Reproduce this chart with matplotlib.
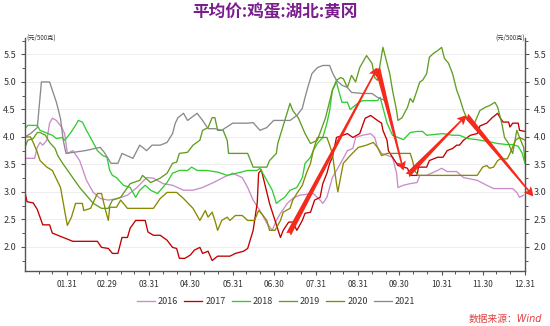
import matplotlib
matplotlib.use('Agg')
import matplotlib.pyplot as plt

plt.rcParams['font.family'] = ['Noto Sans CJK SC', 'DejaVu Sans']

# day of year (Dec 31 = 366) and price
d2016 = [0, 7, 9, 11, 13, 16, 18, 20, 23, 27, 29, 31, 35, 40, 45, 50, 55, 61, 68, 75, 82, 89, 94, 101, 108, 116, 123, 130, 138, 145, 152, 159, 163, 167, 172, 177, 181, 184, 187, 192, 196, 201, 211, 216, 218, 221, 225, 231, 236, 240, 242, 247, 253, 256, 258, 261, 269, 272, 273, 277, 282, 287, 289, 294, 302, 305, 309, 316, 321, 331, 338, 343, 350, 357, 360, 362, 365]
v2016 = [3.61, 3.61, 3.81, 3.9, 3.85, 3.94, 4.25, 4.34, 4.3, 4.17, 4.06, 3.7, 3.75, 3.57, 3.21, 2.99, 2.88, 2.85, 2.88, 2.94, 3.08, 3.26, 3.25, 3.15, 3.12, 3.03, 3.03, 3.08, 3.17, 3.26, 3.34, 3.26, 3.08, 2.85, 2.66, 2.43, 2.3, 2.48, 2.61, 2.79, 2.88, 2.94, 2.97, 2.85, 2.79, 2.9, 3.26, 3.52, 3.75, 3.79, 3.99, 4.03, 4.06, 3.99, 3.81, 3.7, 3.63, 3.34, 3.08, 3.12, 3.15, 3.17, 3.3, 3.3, 3.39, 3.43, 3.37, 3.37, 3.26, 3.21, 3.12, 3.06, 3.06, 3.06, 2.99, 2.9, 2.94]

d2017 = [0, 1.5, 6, 9, 13, 18, 20, 28, 35, 53, 56, 61, 64, 68, 71, 75, 77, 81, 88, 90, 94, 99, 104, 108, 111, 113, 117, 121, 124, 128, 130, 134, 137, 141, 150, 154, 160, 163, 167, 170, 171, 173, 179, 183, 187, 189, 193, 196, 199, 203, 205, 209, 212, 216, 218, 221, 223, 225, 228, 236, 240, 245, 249, 253, 258, 261, 262, 265, 266, 269, 273, 280, 282, 287, 288, 294, 296, 302, 306, 309, 313, 316, 318, 321, 326, 331, 333, 338, 342, 346, 348, 350, 354, 355, 357, 361, 362, 366]
v2017 = [2.99, 2.82, 2.8, 2.68, 2.4, 2.4, 2.25, 2.17, 2.1, 2.1, 1.99, 1.97, 1.88, 1.88, 2.17, 2.17, 2.34, 2.48, 2.48, 2.27, 2.21, 2.21, 2.12, 1.99, 1.97, 1.79, 1.79, 1.85, 1.94, 1.99, 1.88, 1.92, 1.75, 1.83, 1.83, 1.88, 1.92, 1.97, 2.3, 2.8, 3.34, 3.4, 2.79, 2.48, 2.17, 2.3, 2.45, 2.45, 2.3, 2.48, 2.61, 2.63, 2.85, 2.9, 3.15, 3.34, 3.52, 3.63, 3.99, 4.06, 3.99, 4.06, 4.34, 4.39, 4.3, 4.25, 4.12, 3.94, 3.75, 3.63, 3.48, 3.43, 3.3, 3.3, 3.45, 3.45, 3.57, 3.63, 3.63, 3.75, 3.79, 3.85, 3.85, 3.94, 4.03, 4.06, 4.2, 4.25, 4.35, 4.43, 4.34, 4.27, 4.27, 4.18, 4.25, 4.25, 4.12, 4.1]

d2018 = [0, 2, 9, 11, 15, 20, 23, 27, 29, 33, 37, 39, 42, 45, 49, 53, 57, 60, 62, 64, 67, 72, 77, 81, 84, 88, 92, 97, 104, 108, 113, 119, 122, 126, 133, 141, 148, 155, 163, 170, 172, 177, 181, 184, 187, 190, 194, 199, 203, 205, 209, 211, 214, 218, 221, 223, 225, 228, 229, 232, 236, 238, 243, 247, 258, 260, 265, 269, 277, 282, 287, 291, 294, 306, 313, 318, 324, 331, 338, 346, 353, 357, 361, 364, 366]
v2018 = [4.15, 4.21, 4.21, 4.12, 4.08, 4.03, 3.97, 3.99, 3.94, 4.06, 4.21, 4.3, 4.27, 4.12, 3.94, 3.75, 3.66, 3.63, 3.39, 3.3, 3.26, 3.12, 3.08, 2.9, 3.03, 3.12, 3.03, 2.97, 3.17, 3.34, 3.39, 3.39, 3.45, 3.39, 3.39, 3.36, 3.3, 3.34, 3.39, 3.39, 3.43, 3.21, 3.03, 2.79, 2.85, 2.9, 3.03, 3.08, 3.26, 3.52, 3.63, 3.75, 3.88, 3.99, 4.25, 4.48, 4.85, 5.0, 4.9, 4.63, 4.63, 4.5, 4.6, 4.66, 4.66, 4.72, 4.25, 4.03, 3.95, 4.08, 4.1, 4.1, 4.03, 4.06, 4.03, 4.03, 3.97, 3.95, 3.92, 3.88, 3.86, 3.86, 3.83, 3.7, 3.52]

d2019 = [0, 2, 6, 9, 11, 15, 18, 22, 24, 27, 40, 50, 56, 61, 64, 70, 77, 84, 86, 92, 99, 104, 108, 111, 113, 119, 123, 128, 130, 134, 137, 139, 141, 145, 148, 149, 152, 163, 167, 177, 179, 184, 185, 194, 196, 200, 205, 209, 214, 220, 225, 228, 231, 233, 236, 239, 242, 245, 250, 254, 256, 258, 262, 267, 269, 272, 273, 276, 280, 282, 284, 287, 289, 291, 294, 296, 299, 302, 305, 307, 310, 313, 316, 318, 321, 324, 329, 333, 337, 340, 344, 346, 349, 351, 354, 356, 357, 360, 362, 365, 366]
v2019 = [3.81, 3.94, 3.97, 4.08, 4.08, 4.03, 3.9, 3.79, 3.66, 3.54, 3.08, 2.79, 2.7, 2.7, 2.85, 2.9, 3.15, 3.21, 3.3, 3.17, 3.25, 3.34, 3.52, 3.54, 3.7, 3.72, 3.85, 3.94, 4.12, 4.17, 4.35, 4.35, 4.12, 4.12, 3.94, 3.7, 3.7, 3.7, 3.45, 3.45, 3.57, 3.7, 3.88, 4.61, 4.48, 4.35, 4.06, 3.88, 3.94, 4.35, 4.85, 5.03, 5.08, 5.06, 4.9, 5.12, 5.0, 5.26, 5.48, 5.34, 5.08, 5.03, 5.63, 5.15, 4.85, 4.48, 4.3, 4.35, 4.54, 4.7, 4.63, 4.85, 5.0, 5.03, 5.15, 5.45, 5.52, 5.57, 5.63, 5.43, 5.34, 5.15, 4.85, 4.72, 4.48, 4.3, 4.25, 4.48, 4.54, 4.57, 4.63, 4.54, 4.25, 3.99, 3.88, 3.75, 3.7, 4.12, 3.99, 3.81, 3.57]

d2020 = [0, 4, 6, 9, 11, 16, 20, 26, 29, 31, 34, 37, 42, 43, 48, 53, 56, 59, 61, 62, 67, 70, 75, 94, 99, 104, 111, 116, 123, 128, 132, 134, 137, 139, 141, 144, 148, 150, 154, 159, 163, 168, 171, 173, 177, 179, 183, 187, 189, 194, 196, 199, 203, 206, 209, 211, 214, 221, 223, 225, 228, 229, 233, 238, 244, 250, 255, 258, 261, 265, 282, 284, 285, 288, 313, 324, 331, 335, 338, 340, 343, 346, 348, 353, 355, 359, 362, 366]
v2020 = [4.0, 4.0, 3.9, 3.72, 3.57, 3.45, 3.39, 3.08, 2.66, 2.39, 2.54, 2.79, 2.79, 2.66, 2.7, 2.97, 2.97, 2.66, 2.48, 2.72, 2.72, 2.85, 2.7, 2.7, 2.88, 2.99, 2.99, 2.88, 2.7, 2.48, 2.66, 2.54, 2.63, 2.48, 2.3, 2.48, 2.54, 2.48, 2.57, 2.57, 2.48, 2.48, 2.66, 2.61, 2.48, 2.3, 2.3, 2.48, 2.63, 2.7, 2.85, 2.97, 3.12, 3.34, 3.52, 3.75, 3.99, 3.99, 3.85, 3.7, 3.15, 3.0, 3.52, 3.66, 3.81, 3.85, 3.9, 3.81, 3.66, 3.7, 3.7, 3.54, 3.39, 3.3, 3.3, 3.3, 3.3, 3.45, 3.48, 3.43, 3.45, 3.57, 3.6, 3.6, 3.7, 3.94, 3.99, 3.94]

d2021 = [0, 4, 9, 11, 12, 16, 18, 20, 23, 26, 28, 30, 44, 55, 58, 63, 68, 71, 79, 84, 89, 93, 99, 104, 108, 110, 112, 116, 119, 126, 130, 134, 139, 144, 152, 163, 167, 172, 177, 182, 189, 194, 199, 203, 205, 207, 210, 214, 218, 223, 225, 228, 232, 236, 239, 247, 254, 258, 264]
v2021 = [4.0, 4.06, 4.17, 4.72, 5.0, 5.0, 5.0, 4.85, 4.63, 4.33, 3.94, 3.7, 3.75, 3.81, 3.72, 3.52, 3.52, 3.7, 3.61, 3.85, 3.75, 3.85, 3.85, 3.9, 4.06, 4.25, 4.35, 4.43, 4.3, 4.43, 4.3, 4.15, 4.15, 4.12, 4.25, 4.25, 4.26, 4.12, 4.17, 4.3, 4.3, 4.3, 4.39, 4.52, 4.72, 4.9, 5.15, 5.26, 5.3, 5.3, 5.17, 5.03, 4.94, 4.9, 4.81, 4.79, 4.79, 4.72, 4.66]

years = ['2016', '2017', '2018', '2019', '2020', '2021']
colors = ['#c98ccb', '#c00000', '#33cc33', '#5f9e23', '#878a00', '#8a8a8a']

tick_days = [31, 60, 91, 121, 152, 182, 213, 244, 274, 305, 335, 366]
tick_labels = ['01.31', '02.29', '03.31', '04.30', '05.31', '06.30',
               '07.31', '08.31', '09.30', '10.31', '11.30', '12.31']

# hand drawn red arrows (tail day, tail value, head day, head value)
arrows = [(193, 2.23, 258, 5.26),
          (258, 5.26, 277, 3.39),
          (280, 3.30, 323, 4.39),
          (323, 4.39, 372, 2.92)]

fig = plt.figure(figsize=(5.5, 3.26), dpi=100)
ax = fig.add_axes([25 / 550, 1 - 271 / 326, 500 / 550, 233 / 326])

series = [(d2016, v2016), (d2017, v2017), (d2018, v2018),
          (d2019, v2019), (d2020, v2020), (d2021, v2021)]
for (d, v), yr, c in zip(series, years, colors):
    ax.plot(d, v, color=c, lw=0.95, label=yr)

for x0, y0, x1, y1 in arrows:
    ax.annotate('', xy=(x1, y1), xytext=(x0, y0), annotation_clip=False,
                arrowprops=dict(arrowstyle='fancy,head_length=0.6,head_width=0.6,tail_width=0.35',
                                color='#f42a1c', lw=0, mutation_scale=11, shrinkA=0, shrinkB=0),
                zorder=10)

ax.set_xlim(0, 366)
ax.set_ylim(1.56, 5.8)
ax.set_xticks(tick_days)
ax.set_xticklabels(tick_labels)
month_starts = [0] + tick_days[:-1]
ax.set_xticks([s + k for s in month_starts for k in (10, 20)], minor=True)
ax.set_yticks([2.0, 2.5, 3.0, 3.5, 4.0, 4.5, 5.0, 5.5])
ax.set_yticklabels(['2.0', '2.5', '3.0', '3.5', '4.0', '4.5', '5.0', '5.5'])
ax.set_yticks([1.75 + 0.25 * i for i in range(17)], minor=True)

ax.yaxis.set_ticks_position('both')
ax.tick_params(axis='y', which='both', labelleft=True, labelright=True,
               direction='out', colors='#555555', labelcolor='#333333', labelsize=6.5)
ax.tick_params(axis='x', which='both', direction='out', colors='#555555',
               labelcolor='#333333', labelsize=6)
ax.tick_params(which='major', length=3, width=0.8)
ax.tick_params(which='minor', length=2, width=0.7)

ax.grid(axis='y', color='#eeeeee', lw=0.7)
ax.set_axisbelow(True)
for s in ['left', 'right', 'bottom']:
    ax.spines[s].set_color('#555555')
    ax.spines[s].set_linewidth(1.0)
ax.spines['top'].set_visible(False)

fig.text(0.5, 1 - 12.5 / 326, '平均价:鸡蛋:湖北:黄冈', ha='center', va='center',
         fontsize=12, fontweight='bold', color='#7a1e8e')
fig.text(26 / 550, 1 - 38 / 326, '(元/500克)', ha='left', va='center',
         fontsize=4.5, color='#333333')
fig.text(525 / 550, 1 - 38 / 326, '(元/500克)', ha='right', va='center',
         fontsize=4.5, color='#333333')
fig.text(542 / 550, 1 - 319 / 326, '数据来源：Wind', ha='right', va='center',
         fontsize=7, color='#e04040', style='italic',
         family=['DejaVu Sans', 'Noto Sans CJK SC'])

fig.legend(loc='center', bbox_to_anchor=(0.502, 1 - 302 / 326), ncol=6,
           frameon=False, fontsize=6.5, handlelength=2.0, handletextpad=0.3,
           columnspacing=0.7, labelcolor='#333333')

fig.savefig('out.png', dpi=100)
